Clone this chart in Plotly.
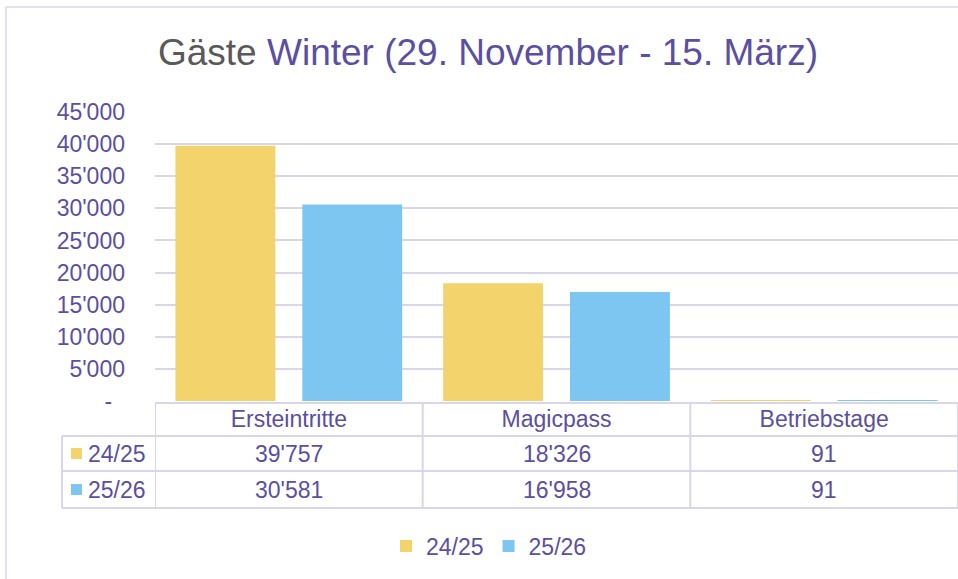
import plotly.graph_objects as go

# ---- data ----
categories = ["Ersteintritte", "Magicpass", "Betriebstage"]
series_names = ["24/25", "25/26"]
values_2425 = [39757, 18326, 91]
values_2526 = [30581, 16958, 91]
y_tickvals = [0, 5000, 10000, 15000, 20000, 25000, 30000, 35000, 40000, 45000]
y_ticktext = ["-\u00a0\u00a0", "5'000", "10'000", "15'000", "20'000", "25'000",
              "30'000", "35'000", "40'000", "45'000"]

# ---- style ----
W, H = 958, 579
L, R, T, B = 155, 0, 112, 178
PURPLE = "#5B4FA0"
GRAY = "#595959"
YELLOW = "#F2D36C"
BLUE = "#7DC6F2"
LINE = "#DAD6EA"
FONT = "Liberation Sans, Arial, sans-serif"
colors = [YELLOW, BLUE]
series_vals = [values_2425, values_2526]

pw, ph = W - L - R, H - T - B


def px(x):
    return (x - L) / pw


def py(y):
    return (H - B - y) / ph


def fmt(v):
    return f"{v:,}".replace(",", "'")


fig = go.Figure()
for name, vals, col in zip(series_names, series_vals, colors):
    fig.add_trace(go.Bar(x=categories, y=vals, name=name, marker_color=col,
                         marker_line_width=0, hoverinfo="x+y+name"))

shapes = []
line = dict(color=LINE, width=2)
# outer frame
shapes.append(dict(type="line", xref="paper", yref="paper", x0=px(6), x1=px(W + 5),
                   y0=py(7), y1=py(7), line=dict(color=LINE, width=1.5)))
shapes.append(dict(type="line", xref="paper", yref="paper", x0=px(6), x1=px(6),
                   y0=py(7), y1=py(H + 5), line=dict(color=LINE, width=1.5)))
# table horizontal lines
y_head_top, y_row1, y_row2, y_bottom = 403, 436, 471, 508
shapes.append(dict(type="line", xref="paper", yref="paper", x0=0, x1=1,
                   y0=py(y_head_top), y1=py(y_head_top), line=line))
for yy in (y_row1, y_row2, y_bottom):
    shapes.append(dict(type="line", xref="paper", yref="paper", x0=px(62), x1=1,
                       y0=py(yy), y1=py(yy), line=line))
# table vertical lines
shapes.append(dict(type="line", xref="paper", yref="paper", x0=px(62), x1=px(62),
                   y0=py(y_row1), y1=py(y_bottom), line=line))
for i in range(len(categories) + 1):
    xv = i - 0.5
    shapes.append(dict(type="line", xref="x", yref="paper", x0=xv, x1=xv,
                       y0=py(y_head_top), y1=py(y_bottom), line=line))

annotations = []
row_centers = [(y_row1 + y_row2) / 2, (y_row2 + y_bottom) / 2]
for r, (name, vals, col) in enumerate(zip(series_names, series_vals, colors)):
    yc = row_centers[r]
    shapes.append(dict(type="rect", xref="paper", yref="paper",
                       x0=px(71), x1=px(82), y0=py(yc - 5.5), y1=py(yc + 5.5),
                       fillcolor=col, line_width=0))
    annotations.append(dict(text=name, xref="paper", yref="paper", x=px(86), y=py(yc),
                            xanchor="left", yanchor="middle", showarrow=False,
                            font=dict(size=23, color=PURPLE, family=FONT)))
    for i, v in enumerate(vals):
        annotations.append(dict(text=fmt(v), xref="x", yref="paper", x=i, y=py(yc),
                                xanchor="center", yanchor="middle", showarrow=False,
                                font=dict(size=23, color=PURPLE, family=FONT)))

fig.update_layout(
    width=W, height=H,
    margin=dict(l=L, r=R, t=T, b=B, pad=0),
    paper_bgcolor="white", plot_bgcolor="white",
    font=dict(family=FONT, color=PURPLE, size=23),
    title=dict(text=f"<span style='color:{GRAY}'>Gäste</span> Winter (29. November - 15. März)",
               x=488 / W, xanchor="center", xref="container",
               y=1 - 52 / H, yanchor="middle", yref="container",
               font=dict(size=37, color=PURPLE, family=FONT)),
    barmode="group", bargap=0.052, bargroupgap=0.2126,
    xaxis=dict(range=[-0.5, 2.5], showgrid=False, showline=False, zeroline=False,
               ticks="", ticklabelstandoff=2, tickfont=dict(size=23, color=PURPLE)),
    yaxis=dict(range=[0, 45000], tickvals=y_tickvals, ticktext=y_ticktext,
               showgrid=True, gridcolor=LINE, gridwidth=2, zeroline=False,
               showline=False, ticks="", ticklabelstandoff=29,
               tickfont=dict(size=23, color=PURPLE)),
    legend=dict(orientation="h", xref="container", yref="container",
                x=489 / W, xanchor="center", y=1 - 546 / H, yanchor="middle",
                font=dict(size=23, color=PURPLE), itemwidth=30,
                bgcolor="rgba(0,0,0,0)"),
    shapes=shapes, annotations=annotations,
)

fig.write_html("out.html", config={"displayModeBar": False},
               post_script="document.body.style.margin='0';")
